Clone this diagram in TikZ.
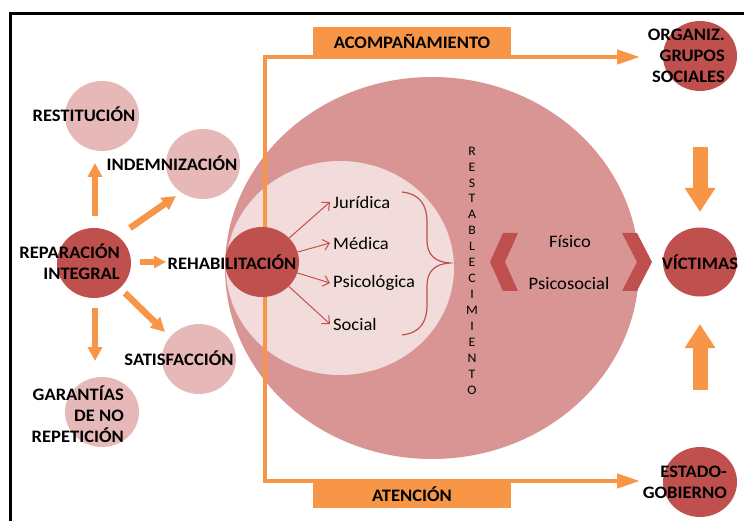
\documentclass[tikz,border=0pt]{standalone}
\usepackage{fontspec}
\setmainfont{Carlito}[FakeStretch=1.06]
\usetikzlibrary{arrows.meta,shapes.geometric}
\definecolor{dkred}{HTML}{C0504D}
\definecolor{midred}{HTML}{D99594}
\definecolor{ltred}{HTML}{E6B9B8}
\definecolor{palered}{HTML}{F2DCDB}
\definecolor{orng}{HTML}{F79646}
\begin{document}
\begin{tikzpicture}[x=1pt,y=-1pt,
  blob/.style={ellipse, minimum width=74pt, minimum height=70pt, inner sep=0pt},
  dark/.style={blob, fill=dkred},
  light/.style={blob, fill=ltred},
  lbl/.style={font=\fontsize{17.5}{21}\selectfont\bfseries, inner sep=0pt, text=black},
  item/.style={font=\fontsize{17.5}{21}\selectfont, inner sep=0pt, text=black},
  fat/.style={draw=orng, line width=6.5pt, -{Triangle[length=14pt,width=14pt]}},
  fatbig/.style={draw=orng, line width=15pt, -{Triangle[length=24pt,width=29pt]}},
  oline/.style={draw=orng, line width=4pt},
  thinarr/.style={draw=dkred, line width=1pt, -{Straight Barb[length=6pt,width=11pt]}},
  obox/.style={fill=orng, minimum width=198pt, minimum height=28pt, lbl},
  chev/.style={fill=dkred},
  ]
\useasboundingbox (0,0) rectangle (744,521);
% frame
\draw[line width=3pt] (10,530) -- (10,13.5) -- (750,13.5);

% big circles
\node[ellipse, fill=midred, minimum width=414pt, minimum height=382pt, inner sep=0pt] (big) at (432,268) {};
\node[ellipse, fill=palered, minimum width=228pt, minimum height=214pt, inner sep=0pt] (inner) at (340,268) {};

% orange L line with arrows
\coordinate (topend) at (640,57);
\coordinate (corner1) at (265,57);
\coordinate (corner2) at (265,481);
\coordinate (botend) at (640,481);
\draw[oline, {Triangle[length=23pt,width=14pt]}-{Triangle[length=23pt,width=14pt]}] (topend) -- (corner1) -- (corner2) -- (botend);

\node[obox] (acomp) at (412,41) {ACOMPAÑAMIENTO};
\node[obox, minimum height=27pt] (aten) at (412,494.5) {ATENCIÓN};

% left circles
\node[light] (rest) at (102,116) {};
\node[light] (indem) at (203,164) {};
\node[light] (satis) at (199,359) {};
\node[light] (garan) at (102,412) {};
\node[dark] (repar) at (94,263) {};
\node[dark] (rehab) at (262,262) {};

% right circles
\node[dark] (organ) at (700,56) {};
\node[dark, minimum height=69pt] (vict) at (700,262) {};
\node[dark] (estado) at (700,482) {};

% left block arrows
\coordinate (a1s) at (95,216); \coordinate (a1e) at (95,163);
\coordinate (a2s) at (130,228); \coordinate (a2e) at (176,196);
\coordinate (a3s) at (140,262); \coordinate (a3e) at (166,262);
\coordinate (a4s) at (125,293); \coordinate (a4e) at (165,332);
\coordinate (a5s) at (95,308); \coordinate (a5e) at (95,361);
\draw[fat] (a1s) -- (a1e);
\draw[fat] (a2s) -- (a2e);
\draw[fat, -{Triangle[length=12pt,width=12pt]}] (a3s) -- (a3e);
\draw[fat] (a4s) -- (a4e);
\draw[fat] (a5s) -- (a5e);

% right block arrows
\coordinate (b1s) at (700,147); \coordinate (b1e) at (700,212);
\coordinate (b2s) at (700,390); \coordinate (b2e) at (700,324);
\draw[fatbig] (b1s) -- (b1e);
\draw[fatbig] (b2s) -- (b2e);

% labels
\node[lbl] (trest) at (84,114) {RESTITUCIÓN};
\node[lbl] (tindem) at (172,163) {INDEMNIZACIÓN};
\node[lbl, align=right, anchor=east] (trepar) at (120,262) {REPARACIÓN\\INTEGRAL};
\node[lbl] (trehab) at (232,262) {REHABILITACIÓN};
\node[lbl] (tsatis) at (179,358) {SATISFACCIÓN};
\node[lbl, align=right, anchor=east] (tgaran) at (124,414) {GARANTÍAS\\DE NO\\REPETICIÓN};
\node[lbl, align=right, anchor=east] (torgan) at (725,56) {ORGANIZ.\\GRUPOS\\SOCIALES};
\node[lbl] (tvict) at (700,262) {VÍCTIMAS};
\node[lbl, align=right, anchor=east] (testado) at (727,482) {ESTADO-\\GOBIERNO};

% rehabilitation items
\node[item, anchor=west] (jur) at (333,202) {Jurídica};
\node[item, anchor=west] (med) at (333,243) {Médica};
\node[item, anchor=west] (psi) at (333,283) {Psicológica};
\node[item, anchor=west] (soc) at (333,324) {Social};
\draw[thinarr] (rehab) -- ([xshift=-3pt]jur.west);
\draw[thinarr] (rehab) -- ([xshift=-3pt]med.west);
\draw[thinarr] (rehab) -- ([xshift=-3pt]psi.west);
\draw[thinarr] (rehab) -- ([xshift=-3pt]soc.west);

% brace
\coordinate (brtop) at (402,192);
\coordinate (brtip) at (450,263);
\coordinate (brbot) at (402,335);
\draw[dkred, line width=1.2pt] (brtop) .. controls (420,194) and (427,205) .. (427,222)
  -- (427,240) .. controls (427,255) and (435,262) .. (brtip)
  .. controls (435,264) and (427,271) .. (427,286)
  -- (427,305) .. controls (427,322) and (420,333) .. (brbot);

% RESTABLECIMIENTO
\node[font=\fontsize{13}{15.93}\selectfont, align=center, inner sep=0pt] (restab) at (472,270.5)
  {R\\E\\S\\T\\A\\B\\L\\E\\C\\I\\M\\I\\E\\N\\T\\O};

% chevrons
\fill[chev] (503,233) -- (518,233) -- (505,262) -- (518,291) -- (503,291) -- (490,262) -- cycle;
\fill[chev] (622,233) -- (637,233) -- (652,262) -- (637,291) -- (622,291) -- (637,262) -- cycle;

\node[item] (fis) at (570,242) {Físico};
\node[item] (psico) at (569,283) {Psicosocial};
\end{tikzpicture}
\end{document}
